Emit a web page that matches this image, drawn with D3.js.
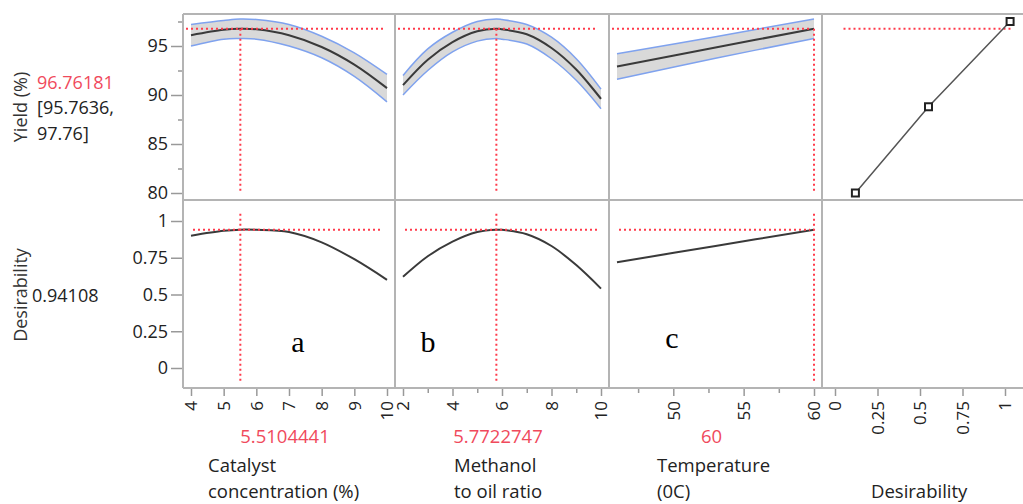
<!DOCTYPE html>
<html>
<head>
<meta charset="utf-8">
<script src="https://cdn.jsdelivr.net/npm/d3@7"></script>
<style>
body { margin: 0; background: #fff; }
svg text { font-family: "Open Sans", "Noto Sans", sans-serif; }
</style>
</head>
<body>
<div id="chart"></div>
<script>
// prediction profiler values
var catX = [4, 5, 5.5, 6, 7, 8, 9, 10];
var catYield = [96.1, 96.65, 96.76, 96.7, 96.1, 94.9, 93.1, 90.7];
var catUpper = [97.2, 97.6, 97.76, 97.7, 97.2, 96.0, 94.3, 92.1];
var catLower = [95.0, 95.7, 95.76, 95.7, 95.0, 93.8, 91.9, 89.3];
var catDes = [0.90, 0.933, 0.941, 0.94, 0.925, 0.855, 0.74, 0.60];

var methX = [2, 3, 4, 5, 5.77, 6, 7, 8, 9, 10];
var methYield = [91.0, 93.6, 95.4, 96.5, 96.76, 96.7, 96.2, 94.8, 92.6, 89.6];
var methUpper = [92.0, 94.7, 96.4, 97.5, 97.76, 97.7, 97.2, 95.9, 93.7, 90.6];
var methLower = [90.0, 92.5, 94.4, 95.5, 95.76, 95.7, 95.2, 93.7, 91.5, 88.6];
var methDes = [0.62, 0.76, 0.86, 0.925, 0.941, 0.94, 0.91, 0.83, 0.70, 0.54];

var tempX = [46, 53, 60];
var tempYield = [92.9, 94.85, 96.76];
var tempUpper = [94.2, 95.95, 97.76];
var tempLower = [91.6, 93.75, 95.76];
var tempDes = [0.72, 0.83, 0.941];

var desLevels = [0.12, 0.55, 1.03];
var yieldLevels = [80, 88.8, 97.5];

var factorNames = [["Catalyst", "concentration (%)"], ["Methanol", "to oil ratio"], ["Temperature", "(0C)"]];
var factorOpt = [5.5104441, 5.7722747, 60];
var factorOptText = ["5.5104441", "5.7722747", "60"];
var panelLetters = ["a", "b", "c"];
var yieldOpt = 96.76181;
var yieldCI = ["[95.7636,", "97.76]"];
var desOpt = 0.94108;

var yieldTicks = [80, 85, 90, 95];
var yieldMinor = [82.5, 87.5, 92.5, 97.5];
var desTicks = [0, 0.25, 0.5, 0.75, 1];
var xTicks = [[4, 5, 6, 7, 8, 9, 10], [2, 4, 6, 8, 10], [50, 55, 60]];
var xMinor = [[], [3, 5, 7, 9], [47.5, 52.5, 57.5]];
var xDomains = [[4, 10], [2, 10], [46, 60]];

var W = 1023, H = 504;
var cols = [183, 395, 609, 822, 1040];
var rowTop = 14, rowMid = 200, rowBot = 388;
var red = "#ff3b4b", redText = "#f04a5c", grey = "#b4b4b4";
var smooth = d3.curveCatmullRom.alpha(0.5);

var svg = d3.select("#chart").append("svg")
    .attr("width", W)
    .attr("height", H);

var yYield = d3.scaleLinear().domain([80, 97.5]).range([193, 21.5]);
var yDes = d3.scaleLinear().domain([0, 1]).range([368, 221]);

var series = [
    { x: catX, y: catYield, up: catUpper, lo: catLower, d: catDes },
    { x: methX, y: methYield, up: methUpper, lo: methLower, d: methDes },
    { x: tempX, y: tempYield, up: tempUpper, lo: tempLower, d: tempDes }
];

var xScales = xDomains.map(function (dom, i) {
    return d3.scaleLinear().domain(dom).range([cols[i] + 8, cols[i + 1] - 8]);
});
var xDesir = d3.scaleLinear().domain([0, 1]).range([835, 1005]);

// y axes
svg.append("g").attr("class", "yax").attr("transform", "translate(" + cols[0] + ",0)")
    .call(d3.axisLeft(yYield).tickValues(yieldTicks).tickSize(12).tickPadding(3));
svg.append("g").attr("transform", "translate(" + cols[0] + ",0)")
    .call(d3.axisLeft(yYield).tickValues(yieldMinor).tickSize(5).tickFormat(""));
svg.append("g").attr("class", "yax").attr("transform", "translate(" + cols[0] + ",0)")
    .call(d3.axisLeft(yDes).tickValues(desTicks).tickSize(12).tickPadding(3)
        .tickFormat(function (d) { return String(d); }));

// x axes
function bottomAxis(scale, ticks, minor) {
    var g = svg.append("g").attr("class", "xax").attr("transform", "translate(0," + rowBot + ")");
    g.call(d3.axisBottom(scale).tickValues(ticks).tickSize(8).tickFormat(function (d) { return String(d); }));
    g.selectAll("text")
        .attr("transform", "rotate(-90)")
        .attr("text-anchor", "end")
        .attr("x", -13)
        .attr("y", 0)
        .attr("dy", "0.35em");
    if (minor.length) {
        svg.append("g").attr("transform", "translate(0," + rowBot + ")")
            .call(d3.axisBottom(scale).tickValues(minor).tickSize(5).tickFormat(""));
    }
}
xScales.forEach(function (s, i) { bottomAxis(s, xTicks[i], xMinor[i]); });
bottomAxis(xDesir, desTicks, []);

svg.selectAll(".domain").remove();
svg.selectAll(".tick line").attr("stroke", "#999").attr("stroke-width", 1.5);
svg.selectAll(".tick text").attr("fill", "#222");
svg.selectAll(".yax .tick text").style("font-size", "18px");
svg.selectAll(".xax .tick text").style("font-size", "17px");

// panel frame
var frame = svg.append("g").attr("stroke", grey).attr("stroke-width", 2).attr("fill", "none");
cols.slice(0, 4).forEach(function (c) {
    frame.append("line").attr("x1", c).attr("x2", c).attr("y1", rowTop).attr("y2", rowBot);
});
[rowTop, rowMid, rowBot].forEach(function (r) {
    frame.append("line").attr("x1", cols[0]).attr("x2", W).attr("y1", r).attr("y2", r);
});

// factor panels
series.forEach(function (s, i) {
    var x = xScales[i];
    var pts = s.x.map(function (v, k) { return { x: v, y: s.y[k], up: s.up[k], lo: s.lo[k], d: s.d[k] }; });

    svg.append("path").datum(pts)
        .attr("fill", "#d9d9d9")
        .attr("d", d3.area().curve(smooth)
            .x(function (p) { return x(p.x); })
            .y0(function (p) { return yYield(p.lo); })
            .y1(function (p) { return yYield(p.up); }));

    ["up", "lo"].forEach(function (key) {
        svg.append("path").datum(pts)
            .attr("fill", "none")
            .attr("stroke", "#7fa2ee")
            .attr("stroke-width", 1.5)
            .attr("d", d3.line().curve(smooth)
                .x(function (p) { return x(p.x); })
                .y(function (p) { return yYield(p[key]); }));
    });

    svg.append("path").datum(pts)
        .attr("fill", "none")
        .attr("stroke", "#3a3a3a")
        .attr("stroke-width", 2)
        .attr("d", d3.line().curve(smooth)
            .x(function (p) { return x(p.x); })
            .y(function (p) { return yYield(p.y); }));

    svg.append("path").datum(pts)
        .attr("fill", "none")
        .attr("stroke", "#3a3a3a")
        .attr("stroke-width", 2)
        .attr("d", d3.line().curve(smooth)
            .x(function (p) { return x(p.x); })
            .y(function (p) { return yDes(p.d); }));

    var dom = x.domain();
    var red1 = svg.append("g").attr("stroke", red).attr("stroke-width", 2).attr("stroke-dasharray", "2,3");
    red1.append("line").attr("x1", x(dom[0]) - 5).attr("x2", x(dom[1]) - 4)
        .attr("y1", yYield(yieldOpt)).attr("y2", yYield(yieldOpt));
    red1.append("line").attr("x1", x(factorOpt[i])).attr("x2", x(factorOpt[i]))
        .attr("y1", yYield(yieldOpt)).attr("y2", yYield(80));
    red1.append("line").attr("x1", x(dom[0]) + 2).attr("x2", x(dom[1]) - 4)
        .attr("y1", yDes(desOpt)).attr("y2", yDes(desOpt));
    red1.append("line").attr("x1", x(factorOpt[i])).attr("x2", x(factorOpt[i]))
        .attr("y1", yDes(1.05)).attr("y2", yDes(-0.09));

    svg.append("text")
        .attr("x", (cols[i] + cols[i + 1]) / 2 - 4)
        .attr("y", 443)
        .attr("text-anchor", "middle")
        .attr("fill", redText)
        .style("font-size", "18.5px")
        .text(factorOptText[i]);
});

// letters
var letterPos = [[298, 352], [428, 352], [672, 348]];
panelLetters.forEach(function (t, i) {
    svg.append("text")
        .attr("x", letterPos[i][0]).attr("y", letterPos[i][1])
        .attr("text-anchor", "middle")
        .style("font-family", "'Liberation Serif', 'Times New Roman', serif")
        .style("font-size", "30px")
        .text(t);
});

// desirability function panel
var dPts = desLevels.map(function (d, k) { return [d, yieldLevels[k]]; });
svg.append("line")
    .attr("x1", xDesir(0.05)).attr("x2", xDesir(1.04))
    .attr("y1", yYield(yieldOpt)).attr("y2", yYield(yieldOpt))
    .attr("stroke", red).attr("stroke-width", 2).attr("stroke-dasharray", "2,3");
svg.append("path").datum(dPts)
    .attr("fill", "none").attr("stroke", "#555").attr("stroke-width", 1.5)
    .attr("d", d3.line().x(function (p) { return xDesir(p[0]); }).y(function (p) { return yYield(p[1]); }));
svg.selectAll(".dpt").data(dPts).join("rect")
    .attr("class", "dpt")
    .attr("x", function (p) { return xDesir(p[0]) - 3.5; })
    .attr("y", function (p) { return yYield(p[1]) - 3.5; })
    .attr("width", 7).attr("height", 7)
    .attr("fill", "#fff").attr("stroke", "#222").attr("stroke-width", 2);

// left labels
svg.append("text")
    .attr("transform", "translate(27,107) rotate(-90)")
    .attr("text-anchor", "middle")
    .attr("fill", "#333")
    .style("font-size", "18px")
    .text("Yield (%)");
svg.append("text").attr("x", 37).attr("y", 89).attr("fill", redText).style("font-size", "18px").text(yieldOpt.toFixed(5));
svg.append("text").attr("x", 37).attr("y", 114).attr("fill", "#222").style("font-size", "18px").text(yieldCI[0]);
svg.append("text").attr("x", 37).attr("y", 140).attr("fill", "#222").style("font-size", "18px").text(yieldCI[1]);

svg.append("text")
    .attr("transform", "translate(27,295) rotate(-90)")
    .attr("text-anchor", "middle")
    .attr("fill", "#333")
    .style("font-size", "18px")
    .text("Desirability");
svg.append("text").attr("x", 32).attr("y", 302).attr("fill", "#222").style("font-size", "18px").text(desOpt.toFixed(5));

// axis titles
var titleX = [208, 454, 657];
factorNames.forEach(function (lines, i) {
    lines.forEach(function (t, k) {
        svg.append("text")
            .attr("x", titleX[i]).attr("y", 472 + k * 26)
            .attr("fill", "#222")
            .style("font-size", "18.5px")
            .text(t);
    });
});
svg.append("text").attr("x", 871).attr("y", 498).attr("fill", "#222").style("font-size", "18.5px").text("Desirability");
</script>
</body>
</html>
